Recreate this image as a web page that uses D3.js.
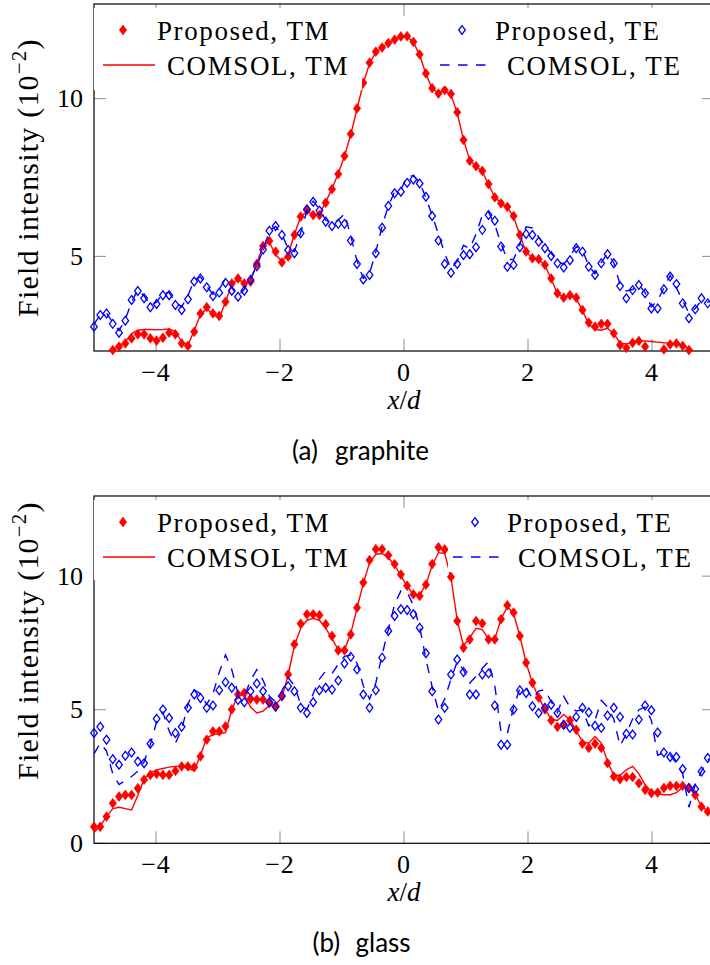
<!DOCTYPE html>
<html>
<head>
<meta charset="utf-8">
<script src="https://cdn.jsdelivr.net/npm/d3@7"></script>
<style>
  body { margin: 0; background: #fff; }
  svg text { font-family: "Liberation Serif", "Times New Roman", serif; fill: #000; }
</style>
</head>
<body>
<div id="chart"></div>
<script>
// sample positions along x/d: 100 evenly spaced samples on [-5, 5]
var xSamples = d3.range(100).map(function (i) { return -5 + i * 10 / 99; });

var xTicks = [-4, -2, 0, 2, 4];
var yTicksGraphite = [5, 10];
var yTicksGlass = [0, 5, 10];

// (a) graphite, field intensity in units of 10^-2
var graphiteTMProposed = [
  1.80, 1.88, 1.95, 2.03, 2.14, 2.24, 2.40, 2.53, 2.53, 2.40,
  2.33, 2.42, 2.58, 2.53, 2.24, 2.16, 2.61, 3.19, 3.39, 3.19,
  3.11, 3.56, 4.14, 4.30, 4.14, 4.20, 4.76, 5.33, 5.49, 5.15,
  4.81, 4.99, 5.68, 6.26, 6.47, 6.31, 6.31, 6.70, 7.13, 7.61,
  8.18, 8.88, 9.69, 10.50, 11.14, 11.49, 11.62, 11.76, 11.87, 11.97,
  11.98, 11.80, 11.40, 10.80, 10.33, 10.16, 10.27, 10.15, 9.57, 8.69,
  8.03, 7.86, 7.71, 7.29, 6.87, 6.68, 6.57, 6.28, 5.68, 5.15,
  4.94, 4.91, 4.73, 4.30, 3.83, 3.69, 3.77, 3.69, 3.30, 2.90,
  2.77, 2.86, 2.86, 2.56, 2.19, 2.10, 2.26, 2.32, 2.14, 1.92,
  1.90, 2.05, 2.21, 2.24, 2.16, 2.03, 1.90, 1.85, 1.80, 1.75
];
var graphiteTMComsol = [
  1.85, 1.90, 1.97, 2.05, 2.15, 2.30, 2.55, 2.66, 2.68, 2.68,
  2.67, 2.68, 2.70, 2.62, 2.30, 2.18, 2.65, 3.15, 3.35, 3.15,
  3.05, 3.55, 4.12, 4.28, 4.15, 4.22, 4.78, 5.35, 5.45, 5.05,
  4.85, 5.05, 5.70, 6.25, 6.42, 6.33, 6.35, 6.72, 7.15, 7.62,
  8.18, 8.86, 9.68, 10.48, 11.12, 11.47, 11.63, 11.77, 11.88, 11.96,
  11.97, 11.79, 11.38, 10.78, 10.32, 10.18, 10.26, 10.12, 9.55, 8.70,
  8.05, 7.85, 7.70, 7.28, 6.88, 6.68, 6.55, 6.26, 5.66, 5.14,
  4.95, 4.90, 4.72, 4.28, 3.82, 3.70, 3.76, 3.66, 3.28, 2.85,
  2.68, 2.66, 2.72, 2.55, 2.25, 2.22, 2.28, 2.31, 2.32, 2.30,
  2.28, 2.26, 2.25, 2.23, 2.18, 2.08, 1.96, 1.88, 1.82, 1.78
];
var graphiteTEProposed = [
  2.77, 3.14, 3.19, 2.86, 2.58, 2.96, 3.62, 3.90, 3.67, 3.39,
  3.49, 3.77, 3.77, 3.46, 3.30, 3.64, 4.20, 4.30, 4.02, 3.74,
  3.85, 4.16, 3.91, 3.72, 3.91, 4.25, 4.69, 5.22, 5.81, 5.96,
  5.68, 5.20, 5.10, 5.73, 6.49, 6.73, 6.45, 6.10, 5.96, 6.03,
  6.03, 5.50, 4.76, 4.27, 4.41, 5.10, 5.91, 6.60, 7.00, 7.05,
  7.33, 7.44, 7.31, 6.89, 6.28, 5.50, 4.76, 4.48, 4.76, 5.04,
  5.07, 5.29, 5.84, 6.31, 6.13, 5.31, 4.67, 4.73, 5.29, 5.71,
  5.68, 5.46, 5.26, 5.01, 4.78, 4.65, 4.88, 5.26, 5.15, 4.67,
  4.41, 4.78, 5.07, 4.78, 4.06, 3.67, 3.93, 4.09, 3.83, 3.35,
  3.35, 3.96, 4.36, 4.12, 3.51, 3.04, 3.32, 3.67, 3.51, 3.60
];
var graphiteTEComsol = [
  2.85, 3.15, 3.20, 2.90, 2.65, 3.00, 3.55, 3.95, 3.75, 3.45,
  3.55, 3.85, 3.85, 3.55, 3.40, 3.75, 4.25, 4.35, 4.05, 3.80,
  3.95, 4.30, 4.00, 3.75, 3.95, 4.30, 4.70, 5.20, 5.80, 5.95,
  5.70, 5.25, 5.15, 5.75, 6.45, 6.75, 6.50, 6.15, 6.05, 6.15,
  6.35, 5.65, 4.85, 4.30, 4.45, 5.15, 5.95, 6.60, 7.05, 7.10,
  7.55, 7.55, 7.35, 6.85, 6.30, 5.70, 5.10, 4.60, 4.85, 5.35,
  5.25, 5.70, 6.30, 6.40, 6.00, 5.40, 4.90, 4.90, 5.40, 5.94,
  5.90, 5.62, 5.35, 5.10, 4.85, 4.75, 5.00, 5.31, 5.20, 4.70,
  4.45, 4.80, 5.10, 4.80, 4.10, 3.90, 3.95, 4.10, 3.85, 3.40,
  3.60, 4.00, 4.40, 4.00, 3.60, 3.20, 3.35, 3.60, 3.55, 3.60
];

// (b) glass
var glassTMProposed = [
  0.62, 0.62, 1.00, 1.50, 1.75, 1.81, 1.81, 2.06, 2.38, 2.56,
  2.60, 2.56, 2.56, 2.71, 2.88, 2.88, 2.85, 3.25, 3.88, 4.19,
  4.19, 4.38, 5.01, 5.57, 5.63, 5.41, 5.38, 5.38, 5.26, 5.13,
  5.51, 6.32, 7.45, 8.22, 8.57, 8.57, 8.54, 8.20, 7.76, 7.22,
  7.22, 7.82, 8.82, 9.76, 10.60, 11.01, 11.01, 10.78, 10.45, 10.06,
  9.64, 9.32, 9.26, 9.68, 10.45, 11.08, 11.00, 9.97, 8.32, 7.32,
  7.63, 8.32, 8.23, 7.63, 7.63, 8.39, 8.91, 8.64, 7.76, 6.76,
  6.01, 5.45, 5.01, 4.60, 4.36, 4.44, 4.60, 4.25, 3.73, 3.57,
  3.73, 3.57, 3.00, 2.50, 2.40, 2.48, 2.48, 2.25, 2.00, 1.88,
  1.90, 2.07, 2.15, 2.15, 2.15, 2.07, 1.81, 1.37, 1.19, 1.05
];
var glassTMComsol = [
  0.40, 0.65, 1.00, 1.30, 1.35, 1.30, 1.25, 1.80, 2.40, 2.65,
  2.75, 2.80, 2.85, 2.88, 2.88, 2.80, 2.72, 3.30, 3.95, 4.07,
  4.10, 4.14, 5.00, 5.55, 5.55, 5.10, 4.88, 4.95, 5.15, 5.20,
  5.45, 6.30, 7.40, 8.05, 8.35, 8.42, 8.35, 8.05, 7.65, 7.25,
  7.25, 7.85, 8.80, 9.72, 10.50, 10.82, 10.85, 10.70, 10.40, 10.02,
  9.62, 9.32, 9.28, 9.70, 10.40, 10.88, 10.85, 9.95, 8.35, 7.40,
  7.70, 8.05, 8.00, 7.65, 7.65, 8.40, 8.85, 8.60, 7.76, 6.76,
  6.00, 5.45, 5.02, 4.65, 4.60, 4.82, 4.62, 4.22, 3.80, 3.75,
  4.00, 3.75, 3.05, 2.55, 2.55, 2.75, 2.88, 2.60, 2.20, 1.92,
  1.85, 1.82, 1.82, 1.90, 2.10, 2.10, 1.80, 1.40, 1.20, 1.05
];
var glassTEProposed = [
  4.13, 4.36, 3.88, 3.15, 2.94, 3.28, 3.40, 3.06, 3.00, 3.73,
  4.66, 5.01, 4.69, 4.13, 4.36, 5.07, 5.57, 5.44, 5.07, 5.16,
  5.73, 6.03, 5.82, 5.36, 5.28, 5.69, 5.98, 5.69, 5.28, 5.11,
  5.51, 5.88, 5.69, 5.07, 4.88, 5.28, 5.73, 5.82, 5.76, 6.09,
  6.73, 6.98, 6.51, 5.57, 5.07, 5.73, 6.95, 7.95, 8.51, 8.76,
  8.73, 8.57, 8.07, 7.11, 5.69, 4.63, 5.07, 6.32, 6.88, 6.41,
  5.57, 5.57, 6.32, 6.36, 5.16, 3.69, 3.69, 5.01, 5.73, 5.63,
  5.13, 4.88, 5.07, 5.19, 4.88, 4.44, 4.32, 4.73, 5.07, 4.90,
  4.40, 4.32, 4.78, 5.07, 4.73, 4.10, 4.07, 4.63, 5.16, 4.98,
  4.15, 3.40, 3.23, 3.23, 2.78, 2.07, 2.03, 2.69, 3.19, 3.35
];
var glassTEComsol = [
  3.35, 3.75, 3.45, 2.60, 2.20, 2.35, 2.50, 2.70, 3.05, 3.70,
  4.55, 4.90, 4.20, 3.75, 4.25, 5.20, 5.75, 5.60, 5.20, 5.60,
  6.40, 7.05, 6.50, 5.60, 5.50, 6.10, 6.50, 6.10, 5.50, 5.30,
  5.70, 6.20, 5.90, 5.20, 5.00, 5.60, 6.15, 6.45, 6.35, 6.70,
  7.00, 7.05, 6.75, 5.90, 5.40, 6.00, 7.05, 8.00, 8.95, 9.45,
  9.40, 8.90, 8.10, 6.90, 5.85, 4.95, 5.40, 6.15, 6.80, 6.50,
  6.00, 6.25, 6.55, 6.80, 5.90, 4.15, 4.10, 5.10, 5.80, 5.85,
  5.40, 5.70, 5.75, 5.30, 4.90, 5.50, 5.10, 4.95, 5.00, 4.40,
  4.60, 5.35, 5.10, 4.65, 3.65, 4.10, 4.65, 5.00, 5.10, 4.60,
  3.30, 3.40, 3.30, 3.00, 2.60, 1.35, 2.20, 2.70, 3.10, 3.35
];

var legendTM = ["Proposed, TM", "COMSOL, TM"];
var legendTE = ["Proposed, TE", "COMSOL, TE"];

var width = 710, height = 965;
var plotLeft = 94, plotRight = 714;
var serif = "'Liberation Serif', 'Times New Roman', serif";

var svg = d3.select("#chart").append("svg")
  .attr("width", width)
  .attr("height", height);

// diamond marker path (taller than wide, like pgfplots)
function diamond(w, h) {
  return "M0," + (-h) + "L" + w + ",0L0," + h + "L" + (-w) + ",0Z";
}

function drawPanel(cfg) {
  var x = d3.scaleLinear().domain([-5, 5]).range([plotLeft, plotRight]);
  var y = d3.scaleLinear().domain(cfg.yDomain).range([cfg.bottom, cfg.top]);

  var g = svg.append("g");

  // clip region for the curves
  g.append("clipPath").attr("id", "clip-" + cfg.id)
    .append("rect")
    .attr("x", plotLeft).attr("y", cfg.top)
    .attr("width", plotRight - plotLeft).attr("height", cfg.bottom - cfg.top);

  // ticks, inward on all four sides
  var tickLen = 12;
  xTicks.forEach(function (t) {
    g.append("line").attr("x1", x(t)).attr("x2", x(t))
      .attr("y1", cfg.bottom).attr("y2", cfg.bottom - tickLen)
      .attr("stroke", "#8c8c8c");
    g.append("line").attr("x1", x(t)).attr("x2", x(t))
      .attr("y1", cfg.top).attr("y2", cfg.top + tickLen)
      .attr("stroke", "#8c8c8c");
  });
  cfg.yTicks.forEach(function (t) {
    g.append("line").attr("x1", plotLeft).attr("x2", plotLeft + tickLen)
      .attr("y1", y(t)).attr("y2", y(t)).attr("stroke", "#8c8c8c");
    g.append("line").attr("x1", plotRight).attr("x2", plotRight - tickLen)
      .attr("y1", y(t)).attr("y2", y(t)).attr("stroke", "#8c8c8c");
  });

  // frame
  g.append("rect")
    .attr("x", plotLeft).attr("y", cfg.top)
    .attr("width", plotRight - plotLeft).attr("height", cfg.bottom - cfg.top)
    .attr("fill", "none").attr("stroke", "#000").attr("stroke-width", 1.2);

  // tick labels
  xTicks.forEach(function (t) {
    g.append("text")
      .attr("x", x(t)).attr("y", cfg.bottom + 30)
      .attr("text-anchor", "middle")
      .style("font-family", serif)
      .style("font-size", "26px")
      .style("letter-spacing", "1px")
      .text(t < 0 ? "\u2212" + Math.abs(t) : t);
  });
  cfg.yTicks.forEach(function (t) {
    g.append("text")
      .attr("x", 83).attr("y", y(t) + 8.5)
      .attr("text-anchor", "end")
      .style("font-family", serif)
      .style("font-size", "26px")
      .text(t);
  });

  var dataTMp = xSamples.map(function (v, i) { return { x: v, y: cfg.tmProposed[i] }; });
  var dataTMc = xSamples.map(function (v, i) { return { x: v, y: cfg.tmComsol[i] }; });
  var dataTEp = xSamples.map(function (v, i) { return { x: v, y: cfg.teProposed[i] }; });
  var dataTEc = xSamples.map(function (v, i) { return { x: v, y: cfg.teComsol[i] }; });

  var inRange = function (d) { return d.y >= cfg.yDomain[0] && d.y <= cfg.yDomain[1]; };
  var line = d3.line()
    .x(function (d) { return x(d.x); })
    .y(function (d) { return y(d.y); });

  // Proposed, TM: filled red diamonds
  g.selectAll(".tmp-" + cfg.id)
    .data(dataTMp.filter(inRange))
    .enter().append("path")
    .attr("d", diamond(3.7, 4.9))
    .attr("transform", function (d) { return "translate(" + x(d.x) + "," + y(d.y) + ")"; })
    .attr("fill", "#ff0000").attr("stroke", "#ff0000").attr("stroke-width", 0.6);

  // COMSOL, TM: solid red line
  g.append("path")
    .datum(dataTMc)
    .attr("clip-path", "url(#clip-" + cfg.id + ")")
    .attr("d", line)
    .attr("fill", "none").attr("stroke", "#ff0000").attr("stroke-width", 1.4);

  // Proposed, TE: open blue diamonds
  g.selectAll(".tep-" + cfg.id)
    .data(dataTEp.filter(inRange))
    .enter().append("path")
    .attr("d", diamond(3.3, 4.4))
    .attr("transform", function (d) { return "translate(" + x(d.x) + "," + y(d.y) + ")"; })
    .attr("fill", "none").attr("stroke", "#0000ff").attr("stroke-width", 1.3);

  // COMSOL, TE: dashed blue line
  g.append("path")
    .datum(dataTEc)
    .attr("clip-path", "url(#clip-" + cfg.id + ")")
    .attr("d", line)
    .attr("fill", "none").attr("stroke", "#0000ff").attr("stroke-width", 1.4)
    .attr("stroke-dasharray", "9.5,8.5");

  // legend boxes (white, no border)
  g.append("rect")
    .attr("x", plotLeft).attr("y", cfg.top + 4)
    .attr("width", 362 - plotLeft).attr("height", cfg.tmBoxH)
    .attr("fill", "#fff");
  g.append("rect")
    .attr("x", cfg.teBoxX).attr("y", cfg.top + 4)
    .attr("width", plotRight - cfg.teBoxX).attr("height", cfg.teBoxH)
    .attr("fill", "#fff");

  var row1 = cfg.top + 26, row2 = cfg.top + 61;
  // TM entries
  g.append("path").attr("d", diamond(3.7, 4.9))
    .attr("transform", "translate(123," + row1 + ")")
    .attr("fill", "#ff0000").attr("stroke", "#ff0000").attr("stroke-width", 0.6);
  g.append("line").attr("x1", 103).attr("x2", 155).attr("y1", row2).attr("y2", row2)
    .attr("stroke", "#ff0000").attr("stroke-width", 1.4);
  // TE entries
  g.append("path").attr("d", diamond(3.3, 4.4))
    .attr("transform", "translate(" + cfg.teMarkX + "," + row1 + ")")
    .attr("fill", "none").attr("stroke", "#0000ff").attr("stroke-width", 1.3);
  g.append("line").attr("x1", cfg.teLineX).attr("x2", cfg.teLineX + 48)
    .attr("y1", row2).attr("y2", row2)
    .attr("stroke", "#0000ff").attr("stroke-width", 1.4)
    .attr("stroke-dasharray", "9.5,8.5");

  var legendText = [
    { t: legendTM[0], x: 157, y: row1 + 10 },
    { t: legendTM[1], x: 167, y: row2 + 10 },
    { t: legendTE[0], x: cfg.teText1X, y: row1 + 10 },
    { t: legendTE[1], x: cfg.teText2X, y: row2 + 10 }
  ];
  g.selectAll(".lt-" + cfg.id)
    .data(legendText)
    .enter().append("text")
    .attr("x", function (d) { return d.x; })
    .attr("y", function (d) { return d.y; })
    .style("font-family", serif)
    .style("font-size", "27px")
    .style("letter-spacing", "1.6px")
    .text(function (d) { return d.t; });

  // y axis label
  var yl = g.append("text")
    .attr("transform", "translate(38," + cfg.ylabelStart + ") rotate(-90)")
    .attr("text-anchor", "start")
    .style("font-family", serif)
    .style("font-size", "30px")
    .style("letter-spacing", "1.2px");
  yl.append("tspan").text("Field intensity (10");
  yl.append("tspan").attr("dy", -12).style("font-size", "21px").text("\u22122");
  yl.append("tspan").attr("dy", 12).text(")");

  // x axis label
  var xl = g.append("text")
    .attr("x", (plotLeft + plotRight) / 2).attr("y", cfg.bottom + 58)
    .attr("text-anchor", "middle")
    .style("font-family", serif)
    .style("font-size", "27px");
  xl.append("tspan").style("font-style", "italic").text("x");
  xl.append("tspan").text("/");
  xl.append("tspan").style("font-style", "italic").text("d");

  // caption
  g.append("text")
    .attr("x", cfg.capX).attr("y", cfg.bottom + 109)
    .style("font-family", "Lato, 'Open Sans', sans-serif")
    .style("font-size", "26px")
    .text(cfg.capTag);
  g.append("text")
    .attr("x", cfg.capX + 43).attr("y", cfg.bottom + 109)
    .style("font-family", "Lato, 'Open Sans', sans-serif")
    .style("font-size", "26px")
    .text(cfg.capName);
}

drawPanel({
  id: "a", top: 4, bottom: 351, yDomain: [2, 13], yTicks: yTicksGraphite,
  tmProposed: graphiteTMProposed, tmComsol: graphiteTMComsol,
  teProposed: graphiteTEProposed, teComsol: graphiteTEComsol,
  tmBoxH: 82, teBoxX: 436, teBoxH: 78,
  teMarkX: 462, teLineX: 440, teText1X: 495, teText2X: 507,
  ylabelStart: 317, capX: 292, capTag: "(a)", capName: "graphite"
});

drawPanel({
  id: "b", top: 496, bottom: 843.3, yDomain: [0, 13], yTicks: yTicksGlass,
  tmProposed: glassTMProposed, tmComsol: glassTMComsol,
  teProposed: glassTEProposed, teComsol: glassTEComsol,
  tmBoxH: 80, teBoxX: 448, teBoxH: 72,
  teMarkX: 475, teLineX: 453, teText1X: 507, teText2X: 518,
  ylabelStart: 780, capX: 312.5, capTag: "(b)", capName: "glass"
});
</script>
</body>
</html>
